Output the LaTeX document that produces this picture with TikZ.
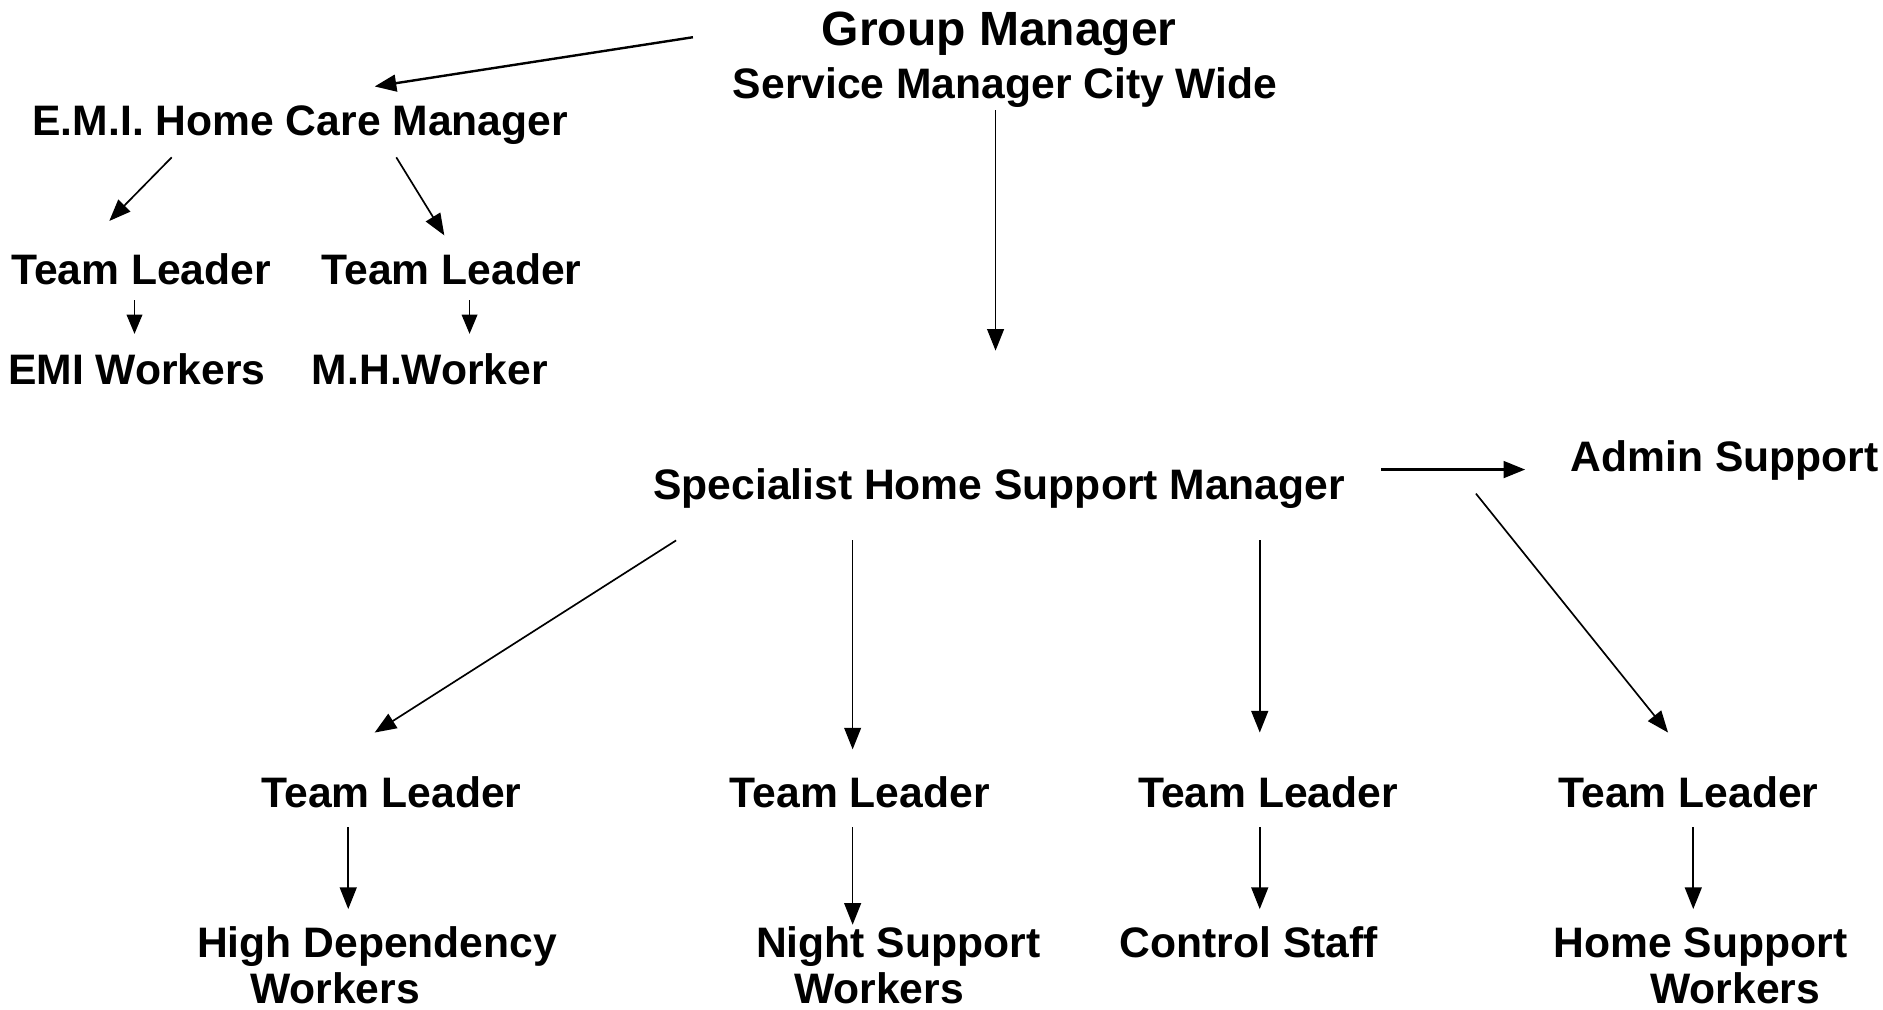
\documentclass[tikz,border=0pt]{standalone}
\usepackage{fontspec}
\setmainfont{Liberation Sans}
\usetikzlibrary{arrows.meta}
\begin{document}
\begin{tikzpicture}[x=1pt,y=-1pt,
  lbl/.style={anchor=base,inner sep=0pt,font=\bfseries\fontsize{35.5}{42}\selectfont},
  big/.style={anchor=base,inner sep=0pt,font=\bfseries\fontsize{40}{48}\selectfont},
  conn/.style={-{Triangle[length=18pt,width=14pt]},line width=1.4pt},
  thick conn/.style={conn,line width=2pt}]
\useasboundingbox (0,0) rectangle (1568,841);
% texts
\node[big] (gm) at (832,38) {Group Manager};
\node[lbl] (smcw) at (837,82) {Service Manager City Wide};
\node[lbl] (emi) at (250,113) {E.M.I. Home Care Manager};
\node[lbl] (tl1) at (117.5,237) {Team Leader};
\node[lbl] (tl2) at (376,237) {Team Leader};
\node[lbl] (emiw) at (114,320) {EMI Workers};
\node[lbl] (mhw) at (358,320) {M.H.Worker};
\node[lbl] (shsm) at (832,416) {Specialist Home Support Manager};
\node[lbl] (admin) at (1436,393) {Admin Support};
\node[lbl] (tl3) at (326,672) {Team Leader};
\node[lbl] (tl4) at (716,672) {Team Leader};
\node[lbl] (tl5) at (1056,672) {Team Leader};
\node[lbl] (tl6) at (1406,672) {Team Leader};
\node[lbl] (hd1) at (314,797) {High Dependency};
\node[lbl] (hd2) at (279,836) {Workers};
\node[lbl] (ns1) at (748,797) {Night Support};
\node[lbl] (ns2) at (732,836) {Workers};
\node[lbl] (cs) at (1040,797) {Control Staff};
\node[lbl] (hs1) at (1416,797) {Home Support};
\node[lbl] (hs2) at (1445,836) {Workers};
% connector end points
\coordinate (a1) at (577,31);   \coordinate (a2) at (312,72);
\coordinate (b1) at (829,92);   \coordinate (b2) at (829,292);
\coordinate (c1) at (143,131);  \coordinate (c2) at (91,184);
\coordinate (d1) at (330,131);  \coordinate (d2) at (370,196);
\coordinate (e1) at (112,250);  \coordinate (e2) at (112,278);
\coordinate (f1) at (391,250);  \coordinate (f2) at (391,278);
\coordinate (g1) at (1150,391); \coordinate (g2) at (1270,391);
\coordinate (h1) at (563,450);  \coordinate (h2) at (312,610);
\coordinate (i1) at (710,450);  \coordinate (i2) at (710,624);
\coordinate (j1) at (1049,450); \coordinate (j2) at (1049,610);
\coordinate (k1) at (1229,411); \coordinate (k2) at (1389,610);
\coordinate (l1) at (290,689);  \coordinate (l2) at (290,757);
\coordinate (m1) at (710,689);  \coordinate (m2) at (710,770);
\coordinate (n1) at (1049,689); \coordinate (n2) at (1049,757);
\coordinate (o1) at (1410,689); \coordinate (o2) at (1410,757);
% connectors
\draw[thick conn] (a1) -- (a2);
\draw[conn] (b1) -- (b2);
\draw[conn] (c1) -- (c2);
\draw[conn] (d1) -- (d2);
\draw[conn,-{Triangle[length=16pt,width=13pt]}] (e1) -- (e2);
\draw[conn,-{Triangle[length=16pt,width=13pt]}] (f1) -- (f2);
\draw[thick conn] (g1) -- (g2);
\draw[conn] (h1) -- (h2);
\draw[conn] (i1) -- (i2);
\draw[conn] (j1) -- (j2);
\draw[conn] (k1) -- (k2);
\draw[conn] (l1) -- (l2);
\draw[conn] (m1) -- (m2);
\draw[conn] (n1) -- (n2);
\draw[conn] (o1) -- (o2);
\end{tikzpicture}
\end{document}
